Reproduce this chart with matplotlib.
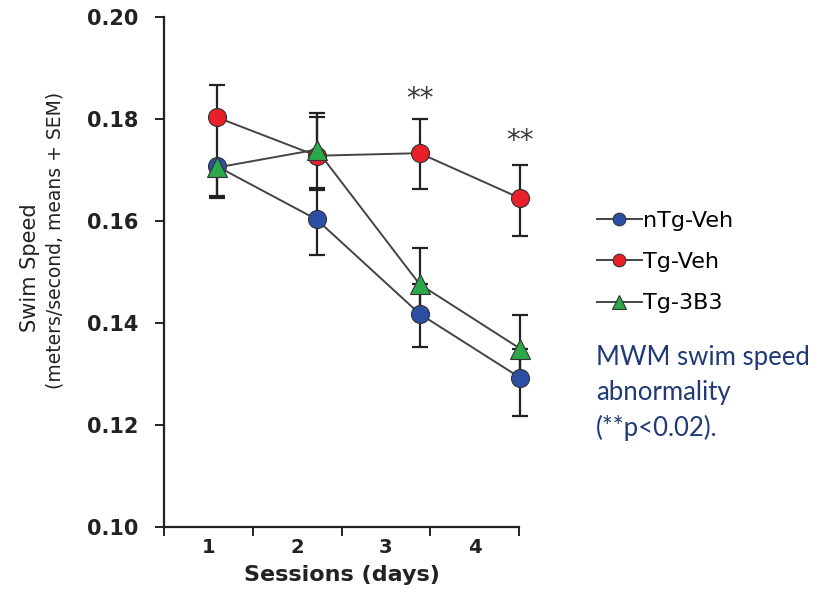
import matplotlib.pyplot as plt
from matplotlib.lines import Line2D

# data
sessions = ["1", "2", "3", "4"]
x_pos = [1.10, 2.22, 3.38, 4.51]

# means and SEM (lower / upper lengths; hidden whiskers run under a neighbour marker)
ntg_veh = [0.1707, 0.1603, 0.1418, 0.1293]
ntg_veh_lo = [0.0057, 0.0070, 0.0066, 0.0075]
ntg_veh_hi = [0.0000, 0.0062, 0.0058, 0.0057]

tg_veh = [0.1803, 0.1728, 0.1733, 0.1645]
tg_veh_lo = [0.0096, 0.0068, 0.0071, 0.0074]
tg_veh_hi = [0.0064, 0.0075, 0.0067, 0.0065]

tg_3b3 = [0.1705, 0.1740, 0.1476, 0.1350]
tg_3b3_lo = [0.0059, 0.0012, 0.0058, 0.0057]
tg_3b3_hi = [0.0000, 0.0071, 0.0072, 0.0066]

star_sessions = [3, 4]
star_y = [0.1840, 0.1757]

series = [
    ("nTg-Veh", ntg_veh, ntg_veh_lo, ntg_veh_hi, "o", "#2c4ea3", 13),
    ("Tg-Veh", tg_veh, tg_veh_lo, tg_veh_hi, "o", "#e8202a", 13),
    ("Tg-3B3", tg_3b3, tg_3b3_lo, tg_3b3_hi, "^", "#2aa84a", 14),
]

plt.rcParams['font.family'] = ['DejaVu Sans']

fig = plt.figure(figsize=(8.23, 5.92), dpi=100)
ax = fig.add_axes([164 / 823, 65 / 592, 355 / 823, 510 / 592])

handles = []
for name, vals, lo, hi, mk, col, ms in series:
    ax.errorbar(x_pos, vals, yerr=[lo, hi], fmt="none", ecolor="#222222",
                elinewidth=1.6, capsize=6, capthick=1.6, zorder=2, clip_on=False)
    ax.plot(x_pos, vals, color="#444444", lw=1.4, zorder=3, clip_on=False)
    ax.plot(x_pos, vals, ls="none", marker=mk, ms=ms, mfc=col, mec="#333333",
            mew=0.8, zorder=4, clip_on=False)
    handles.append(Line2D([], [], color="#444444", lw=1.4, marker=mk,
                          ms=ms * 0.7, mfc=col, mec="#333333", mew=0.8, label=name))

for s, y in zip(star_sessions, star_y):
    ax.text(x_pos[s - 1], y, "**", ha="center", va="center",
            fontsize=20, color="#3a3a3a")

ax.set_ylim(0.10, 0.20)
ax.set_xlim(0.5, 4.5)
ax.set_yticks([0.10, 0.12, 0.14, 0.16, 0.18, 0.20])
ax.set_yticklabels(["0.10", "0.12", "0.14", "0.16", "0.18", "0.20"],
                   fontsize=15, fontweight="bold", color="#222222")
ax.set_xticks([0.5, 1.5, 2.5, 3.5, 4.5])
ax.set_xticklabels([])
ax.set_xticks([1, 2, 3, 4], minor=True)
ax.set_xticklabels(sessions, minor=True, fontsize=14, fontweight="bold", color="#222222")
ax.tick_params(axis="x", which="minor", length=0, pad=8)
ax.tick_params(axis="both", which="major", length=6.5, width=1.4, color="#222222", direction="out")
ax.tick_params(axis="y", pad=12)

for side in ["top", "right"]:
    ax.spines[side].set_visible(False)
for side in ["left", "bottom"]:
    ax.spines[side].set_linewidth(1.6)
    ax.spines[side].set_color("#222222")

ax.set_xlabel("Sessions (days)", fontsize=16, fontweight="bold", color="#222222", labelpad=6)

fig.text(30 / 823, 1 - 268 / 592, "Swim Speed", rotation=90, ha="center", va="center",
         fontsize=15, color="#222222")
fig.text(55 / 823, 1 - 240 / 592, "(meters/second, means + SEM)", rotation=90,
         ha="center", va="center", fontsize=13.5, color="#222222")

fig.legend(handles=handles, loc="upper left", bbox_to_anchor=(586 / 823, 1 - 200 / 592),
           frameon=False, fontsize=16, handlelength=2.0, handletextpad=0.05,
           labelspacing=0.95, borderpad=0)

fig.text(596 / 823, 1 - 393 / 592, "MWM swim speed\nabnormality\n(**p<0.02).",
         ha="left", va="center", fontsize=18.5, color="#203a78", family="Lato",
         linespacing=1.5)

fig.savefig("out.png", dpi=100)
